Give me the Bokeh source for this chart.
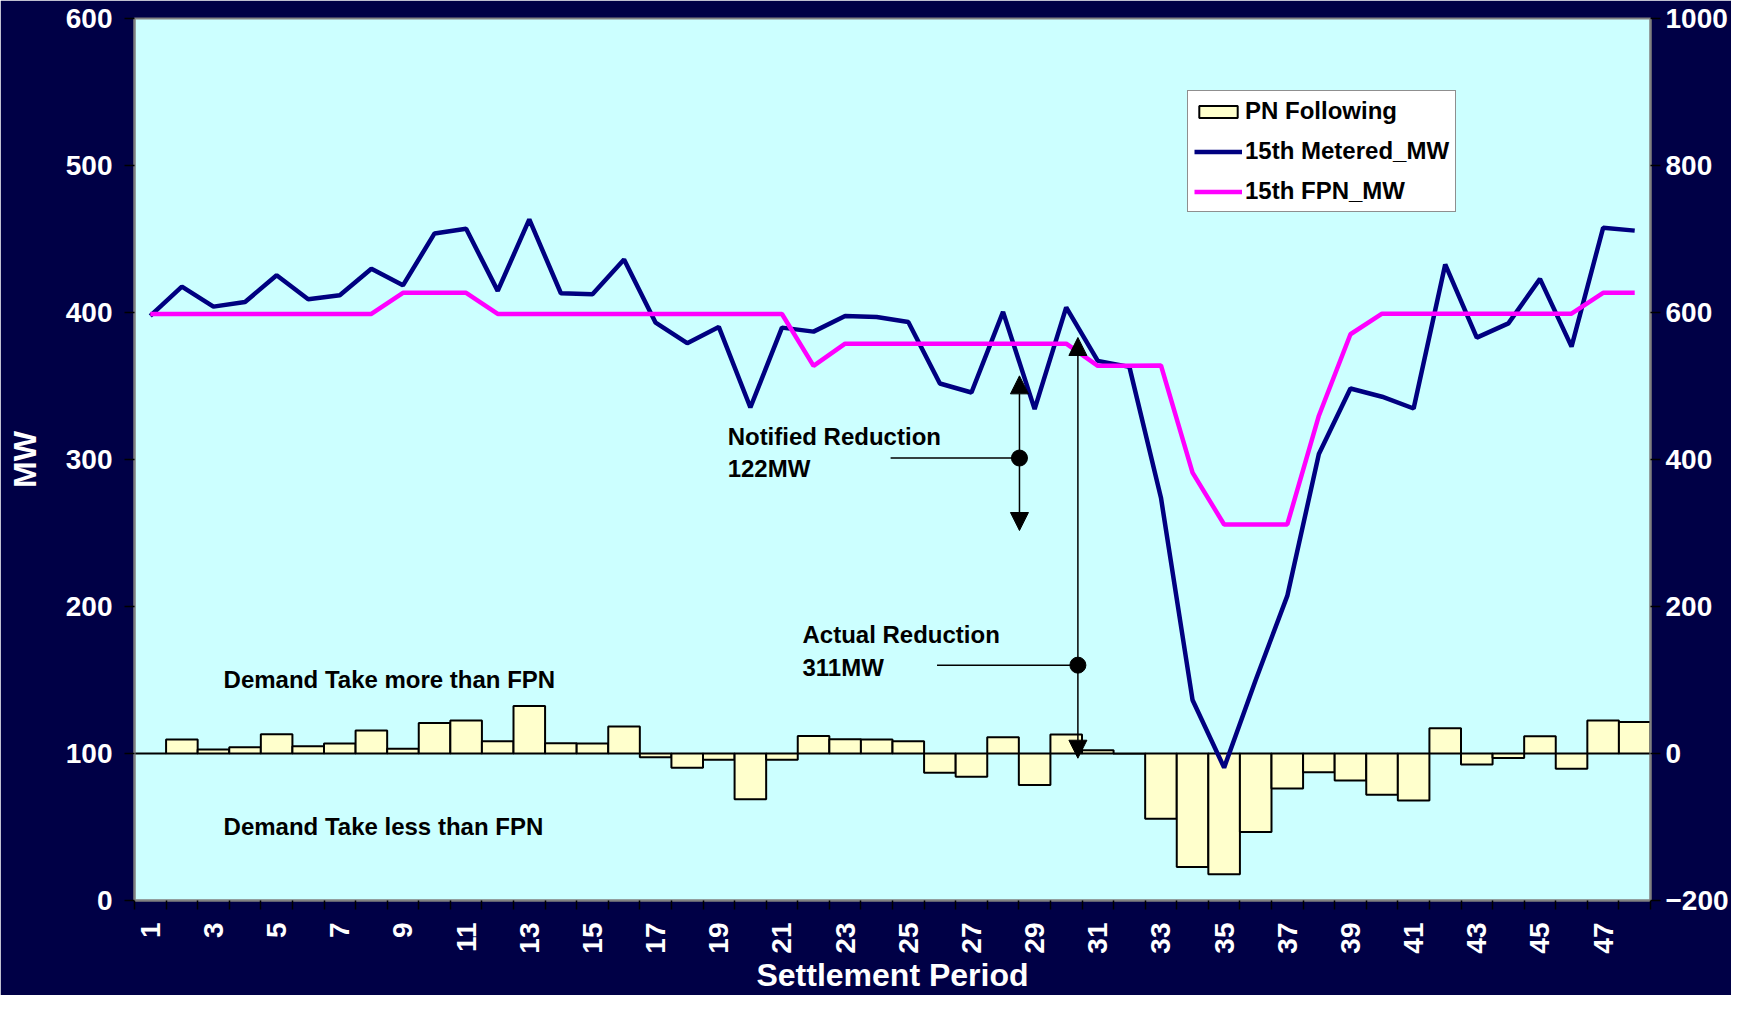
import math
from bokeh.plotting import figure
from bokeh.models import (Range1d, LinearAxis, FixedTicker, Legend, LegendItem,
                          Label, Arrow, NormalHead, ColumnDataSource)
from bokeh.embed import file_html
from bokeh.resources import INLINE

# ---------------- data ----------------
periods = list(range(1, 49))

metered_mw = [397.7, 417.6, 404.0, 407.2, 425.3, 409.0, 411.7, 429.8, 418.5, 453.8,
              457.0, 414.7, 463.3, 413.1, 412.4, 436.0, 393.1, 379.1, 390.2, 335.4,
              389.7, 387.0, 397.6, 396.9, 393.5, 351.7, 345.6, 400.4, 334.3, 403.5,
              367.1, 363.0, 274.0, 136.4, 90.4, 150.0, 207.2, 303.7, 348.3, 342.7,
              334.7, 432.7, 382.9, 392.6, 422.9, 376.8, 457.6, 455.7]

fpn_mw = [399.0, 399.0, 399.0, 399.0, 399.0, 399.0, 399.0, 399.0, 413.4, 413.4,
          413.4, 399.0, 399.0, 399.0, 399.0, 399.0, 399.0, 399.0, 399.0, 399.0,
          399.0, 363.7, 378.8, 378.8, 378.8, 378.8, 378.8, 378.8, 378.8, 378.8,
          363.7, 363.7, 364.0, 291.1, 255.8, 255.8, 255.8, 329.8, 385.2, 399.2,
          399.2, 399.2, 399.2, 399.2, 399.2, 399.2, 413.4, 413.4]

pn_following = [0.0, 19.0, 5.4, 8.6, 26.2, 9.9, 13.6, 31.2, 6.3, 41.6,
                44.8, 16.7, 64.6, 14.0, 13.6, 36.6, -5.0, -19.5, -8.6, -62.4,
                -8.6, 23.9, 19.4, 19.0, 16.7, -26.3, -31.7, 22.1, -43.0, 25.8,
                4.5, -0.5, -88.7, -154.3, -164.2, -106.8, -47.5, -25.4, -36.6, -56.2,
                -63.8, 34.3, -14.9, -6.0, 23.5, -20.9, 44.8, 42.9]

left_ticks = [0, 100, 200, 300, 400, 500, 600]
right_ticks = [-200, 0, 200, 400, 600, 800, 1000]
x_label_periods = [1, 3, 5, 7, 9, 11, 13, 15, 17, 19, 21, 23, 25, 27, 29, 31, 33,
                   35, 37, 39, 41, 43, 45, 47]

# ---------------- styling ----------------
NAVY_BG = "#000046"
PLOT_BG = "#CCFFFF"
FONT = "Liberation Sans"

p = figure(width=1731, height=995, output_backend="svg", toolbar_location=None,
           x_range=Range1d(0.5, 48.5), y_range=Range1d(0, 600),
           min_border_left=134, min_border_right=79, min_border_top=18,
           min_border_bottom=93)
p.extra_y_ranges = {"right": Range1d(-200, 1000)}
p.background_fill_color = PLOT_BG
p.border_fill_color = NAVY_BG
p.outline_line_color = "#808080"
p.outline_line_width = 2
p.xgrid.visible = False
p.ygrid.visible = False

src = ColumnDataSource(dict(period=periods, metered=metered_mw, fpn=fpn_mw, pn=pn_following))

bars = p.vbar(x="period", top="pn", bottom=0, width=1.0, source=src, y_range_name="right",
              fill_color="#FFFFCC", line_color="black", line_width=2)
met = p.line(x="period", y="metered", source=src, line_color="#000080", line_width=4.5)
fpn = p.line(x="period", y="fpn", source=src, line_color="#FF00FF", line_width=4.5)

# axes
def style_axis(ax):
    ax.axis_line_color = "#808080"
    ax.axis_line_width = 2
    ax.major_label_text_color = "white"
    ax.major_label_text_font = FONT
    ax.major_label_text_font_style = "bold"
    ax.major_label_text_font_size = "28px"
    ax.axis_label_text_color = "white"
    ax.axis_label_text_font = FONT
    ax.axis_label_text_font_style = "bold"
    ax.axis_label_text_font_size = "32px"
    ax.major_tick_line_color = "black"
    ax.major_tick_line_width = 1.5
    ax.minor_tick_line_color = "black"
    ax.minor_tick_line_width = 1.5

ya = p.yaxis[0]
style_axis(ya)
ya.ticker = FixedTicker(ticks=left_ticks)
ya.major_tick_in = 0
ya.major_tick_out = 10
ya.minor_tick_out = 0
ya.minor_tick_in = 0
ya.major_label_standoff = 12
ya.axis_label = "MW"
ya.axis_label_standoff = 20

ra = LinearAxis(y_range_name="right")
style_axis(ra)
ra.ticker = FixedTicker(ticks=right_ticks)
ra.major_tick_in = 0
ra.major_tick_out = 10
ra.minor_tick_out = 0
ra.minor_tick_in = 0
ra.major_label_standoff = 5
p.add_layout(ra, "right")

xa = p.xaxis[0]
style_axis(xa)
xa.ticker = FixedTicker(ticks=x_label_periods,
                        minor_ticks=[i + 0.5 for i in range(0, 49)])
xa.major_tick_in = 0
xa.major_tick_out = 0
xa.minor_tick_in = 0
xa.minor_tick_out = 9
xa.major_label_orientation = math.pi / 2
xa.major_label_standoff = 13
xa.axis_label = "Settlement Period"
xa.axis_label_standoff = 0

# legend
legend = Legend(items=[LegendItem(label="PN Following", renderers=[bars]),
                       LegendItem(label="15th Metered_MW", renderers=[met]),
                       LegendItem(label="15th FPN_MW", renderers=[fpn])],
                location=(1053, 688))
legend.background_fill_color = "white"
legend.background_fill_alpha = 1.0
legend.border_line_color = "#202020"
legend.border_line_width = 1.5
legend.label_text_font = FONT
legend.label_text_font_style = "bold"
legend.label_text_font_size = "24px"
legend.label_text_color = "black"
legend.glyph_width = 48
legend.glyph_height = 15
legend.label_height = 26
legend.label_standoff = 3
legend.spacing = 12
legend.padding = 6
legend.margin = 0
p.add_layout(legend, "center")

# annotations
def add_label(x, y, text):
    p.add_layout(Label(x=x, y=y, text=text, text_font=FONT, text_font_style="bold",
                       text_font_size="24px", text_color="black",
                       text_baseline="alphabetic"))

add_label(19.28, 315.5, "Notified Reduction")
add_label(19.28, 293.6, "122MW")
add_label(21.65, 180.9, "Actual Reduction")
add_label(21.65, 158.3, "311MW")
add_label(3.32, 150.6, "Demand Take more than FPN")
add_label(3.32, 50.4, "Demand Take less than FPN")

# reduction markers
p.segment(x0=[24.44, 25.91], y0=[301.0, 160.1], x1=[28.52, 30.37], y1=[301.0, 160.1],
          line_color="black", line_width=1.5)
p.scatter(x=[28.52, 30.37], y=[301.0, 160.1], size=16, fill_color="black",
          line_color="black")
p.add_layout(Arrow(start=NormalHead(size=18, fill_color="black", line_color="black"),
                   end=NormalHead(size=18, fill_color="black", line_color="black"),
                   x_start=28.52, y_start=251.7, x_end=28.52, y_end=356.9,
                   line_color="black", line_width=1.5))
p.add_layout(Arrow(start=NormalHead(size=18, fill_color="black", line_color="black"),
                   end=NormalHead(size=18, fill_color="black", line_color="black"),
                   x_start=30.37, y_start=96.8, x_end=30.37, y_end=383.0,
                   line_color="black", line_width=1.5))

open("out.html", "w").write(file_html(p, INLINE))
